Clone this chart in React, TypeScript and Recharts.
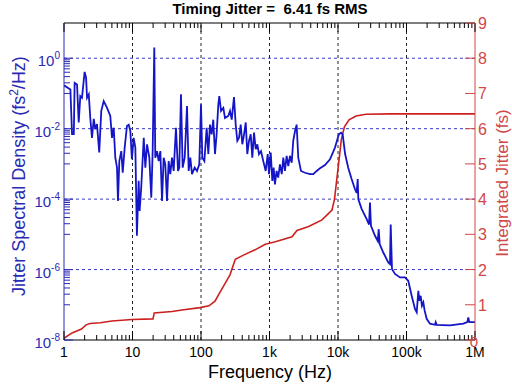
import React from 'react';
import { LineChart, Line, XAxis, YAxis, ReferenceLine } from 'recharts';

// jitter spectral density (fs^2/Hz) vs frequency (Hz)
const psdFreqs = [
  1, 1.24, 1.31, 1.39, 1.43, 1.55, 1.64, 1.73, 1.83, 2.0,
  2.1, 2.17, 2.3, 2.42, 2.56, 2.72, 2.86, 3.03, 3.27, 3.5,
  3.8, 4.25, 4.74, 5.02, 5.32, 5.61, 5.94, 6.14, 6.42, 6.86,
  7.2, 7.69, 8.3, 8.8, 9.3, 9.8, 10.4, 11.0, 11.6, 12.3,
  12.7, 13.4, 14.6, 15.4, 16.3, 17.6, 18.8, 19.7, 20.8, 21.5,
  22.8, 24.1, 25.5, 27.0, 28.5, 30.1, 31.9, 33.7, 35.6, 37.7,
  39.9, 43.1, 46.2, 48.2, 51.0, 54.0, 57.8, 62.5, 66.1, 69.8,
  73.9, 80.9, 87.5, 94.4, 100, 104.5, 112, 121, 128, 135,
  143, 151, 160, 169, 179, 185, 196, 212, 224, 250,
  265, 281, 303, 321, 339, 359, 380, 401, 425, 450,
  474, 502, 532, 561, 594, 629, 664, 703, 752, 811,
  880, 942, 984, 1042, 1100, 1150, 1200, 1270, 1340, 1420,
  1510, 1590, 1680, 1780, 1880, 1990, 2110, 2220, 2360, 2490,
  2630, 2880, 3300, 3900, 4360, 4880, 5460, 6460, 7640, 9030,
  10300, 11100, 11700, 12700, 14100, 15800, 17700, 18700, 19400, 19800,
  22200, 26200, 28400, 29300, 30300, 34700, 38000, 39300, 40600, 45800,
  54200, 57400, 58800, 61400, 67900, 80400, 95100, 106000, 119000, 133000,
  141000, 149000, 154000, 161000, 168000, 176000, 184000, 197000, 220000, 261000,
  267000, 276000, 432000, 675000, 772000, 798000, 826000, 1000000,
];
const psdValues = [
  1.7e-1, 1.3e-1, 7.0e-3, 7.0e-3, 2.0e-1, 1.8e-1, 1.5e-2, 8.4e-2, 7.5e-2, 4.1e-1,
  2.8e-1, 7.5e-2, 9.4e-2, 2.0e-2, 5.5e-3, 1.9e-2, 9.7e-3, 1.35e-2, 2.1e-3, 3.2e-2,
  6.1e-2, 3.9e-2, 2.3e-2, 5.5e-3, 1.06e-2, 1.5e-3, 7.8e-4, 8.9e-5, 1.2e-3, 2.3e-3,
  5.6e-4, 2.9e-3, 1.2e-2, 1.3e-2, 8.6e-3, 1.35e-3, 5.5e-3, 2.9e-3, 9.1e-6, 3.3e-4,
  4.6e-5, 2.1e-4, 5.5e-3, 7.8e-4, 3.6e-3, 1.5e-3, 1.1e-4, 2.3e-3, 2.0, 1.5e-3,
  2.3e-3, 1.2e-3, 2.3e-3, 8.9e-5, 1.5e-3, 9.7e-4, 8.9e-5, 1.2e-3, 5.1e-4, 1.5e-3,
  6.3e-4, 1.06e-2, 6.3e-4, 7.8e-4, 9.4e-2, 7.8e-4, 1.5e-3, 4.4e-2, 6.3e-4, 1.5e-3,
  5.1e-4, 7.8e-4, 6.3e-4, 9.7e-4, 4.9e-2, 1.5e-3, 1.2e-3, 1.06e-2, 1.9e-3, 1.3e-2,
  6.9e-3, 1.8e-2, 1.9e-3, 6.9e-3, 4.9e-2, 8.4e-2, 3.2e-2, 3.9e-2, 2.0e-2, 2.3e-2,
  3.2e-2, 1.8e-2, 7.9e-2, 1.3e-2, 4.5e-3, 5.5e-3, 1.3e-2, 3.6e-3, 6.9e-3, 1.5e-2,
  1.9e-3, 4.5e-3, 6.9e-3, 1.5e-3, 7.7e-3, 2.6e-3, 3.6e-3, 1.9e-3, 2.3e-3, 1.2e-3,
  6.3e-4, 1.9e-3, 5.1e-4, 2.1e-3, 3.3e-4, 7.8e-4, 2.6e-4, 6.3e-4, 4.1e-4, 9.7e-4,
  5.1e-4, 1.5e-3, 6.3e-4, 1.7e-3, 8.7e-4, 1.7e-3, 1.08e-3, 4.5e-3, 8.6e-3, 1.3e-2,
  1.5e-3, 6.3e-4, 5.6e-4, 5.1e-4, 5.1e-4, 6.3e-4, 7.5e-4, 9.3e-4, 1.35e-3, 2.9e-3,
  6.9e-3, 7.7e-3, 6.9e-3, 1.9e-3, 7.8e-4, 3.7e-4, 1.9e-4, 1.5e-4, 3.7e-4, 9.9e-5,
  5.2e-5, 2.7e-5, 1.9e-5, 8.0e-5, 1.74e-5, 9.1e-6, 6.5e-6, 1.4e-5, 5.3e-6, 3.05e-6,
  1.6e-6, 1.43e-6, 1.9e-5, 1.03e-6, 7.5e-7, 6.0e-7, 6.0e-7, 4.8e-7, 1.8e-7, 7.6e-8,
  6.1e-8, 2.5e-7, 1.3e-7, 1.8e-7, 9.4e-8, 1.17e-7, 6.8e-8, 4.0e-8, 2.9e-8, 2.7e-8,
  3.2e-8, 2.7e-8, 2.6e-8, 2.9e-8, 3.2e-8, 4.4e-8, 3.2e-8, 3.2e-8,
];

// integrated rms jitter (fs)
const jitterFreqs = [
  1, 1.31, 1.6, 1.8, 2.1, 2.4, 3.4, 5.0, 9.8, 19.9,
  20.8, 37.7, 52.8, 96.7, 131, 160, 189, 224, 265, 293,
  317, 417, 614, 868, 1217, 2130, 2520, 3730, 5840, 8170,
  8890, 10200, 11200, 12400, 14500, 18300, 25600, 57400, 1000000,
];
const jitterValues = [
  0.05, 0.2, 0.27, 0.31, 0.43, 0.47, 0.49, 0.54, 0.58, 0.6,
  0.77, 0.81, 0.85, 0.92, 0.97, 1.1, 1.35, 1.6, 1.85, 2.1,
  2.29, 2.41, 2.56, 2.72, 2.79, 2.93, 3.11, 3.22, 3.41, 3.69,
  4.0, 5.0, 5.7, 6.05, 6.25, 6.36, 6.41, 6.42, 6.42,
];

const freqTicks = [1, 10, 100, 1e3, 1e4, 1e5, 1e6];
const freqTickLabels = ['1', '10', '100', '1k', '10k', '100k', '1M'];
const psdTicks = [1e-8, 1e-6, 1e-4, 1e-2, 1];
const psdTickExps = ['-8', '-6', '-4', '-2', '0'];
const jitterTicks = [0, 1, 2, 3, 4, 5, 6, 7, 8, 9];
const freqGrid = [10, 100, 1e3, 1e4, 1e5];
const psdGrid = [1e-6, 1e-4, 1e-2, 1];

const FONT = '"Liberation Sans", Arial, Helvetica, sans-serif';
const BLUE = '#1515c8';
const BLUE_TXT = '#2a2ab4';
const RED = '#cc2020';
const RED_AXIS = '#d04848';

// minor ticks: 2..9 per frequency decade, m*10^k on the odd psd decades
const freqMinor: number[] = [];
for (let d = 0; d < 6; d++) for (let m = 2; m <= 9; m++) freqMinor.push(m * Math.pow(10, d));
const psdMinor: number[] = [];
for (const k of [-7, -5, -3, -1]) for (let m = 1; m <= 9; m++) psdMinor.push(m * Math.pow(10, k));

const allFreqTicks = [...freqTicks, ...freqMinor].sort((a, b) => a - b);
const allPsdTicks = [...psdTicks, ...psdMinor].sort((a, b) => a - b);

const findTick = (arr: number[], v: number) => arr.findIndex((t) => Math.abs(t - v) / t < 1e-6);

function BottomTick({ x, y, payload }: any) {
  const i = findTick(freqTicks, payload.value);
  return (
    <g>
      <line x1={x} x2={x} y1={y} y2={y - (i >= 0 ? 9 : 5)} stroke="#000" />
      {i >= 0 && (
        <text x={x} y={y + 17} textAnchor="middle" fontSize={14} fontFamily={FONT} fill="#000">
          {freqTickLabels[i]}
        </text>
      )}
    </g>
  );
}

function TopTick({ x, y, payload }: any) {
  const major = findTick(freqTicks, payload.value) >= 0;
  return <line x1={x} x2={x} y1={y} y2={y + (major ? 9 : 5)} stroke="#000" />;
}

function LeftTick({ x, y, payload }: any) {
  const i = findTick(psdTicks, payload.value);
  return (
    <g>
      <line x1={x} x2={x + (i >= 0 ? 9 : 6)} y1={y} y2={y} stroke={BLUE_TXT} />
      {i >= 0 && (
        <text x={x - 4} y={y + 8} textAnchor="end" fontSize={15} fontFamily={FONT} fill={BLUE_TXT}>
          10
          <tspan dy={-7} fontSize={10}>
            {psdTickExps[i]}
          </tspan>
        </text>
      )}
    </g>
  );
}

function RightTick({ x, y, payload }: any) {
  const zero = payload.value === 0;
  return (
    <g>
      <line x1={x} x2={x - 10} y1={y} y2={y} stroke={RED_AXIS} />
      <text
        x={zero ? x - 1 : x + 3}
        y={zero ? y + 7 : y + 6}
        textAnchor={zero ? 'middle' : 'start'}
        fontSize={zero ? 15 : 16}
        fontFamily={FONT}
        fill={RED_AXIS}
      >
        {payload.value}
      </text>
    </g>
  );
}

export default function App() {
  const psdData = psdFreqs.map((f, i) => ({ f, psd: psdValues[i] }));
  const jitterData = jitterFreqs.map((f, i) => ({ f, rms: jitterValues[i] }));

  return (
    <div style={{ position: 'absolute', left: 0, top: 0, width: 512, height: 384, background: '#fff' }}>
      <LineChart width={512} height={384} margin={{ top: 22, right: 7, bottom: 14, left: 8 }}>
        <XAxis
          type="number"
          dataKey="f"
          scale="log"
          domain={[1, 1e6]}
          allowDataOverflow
          ticks={allFreqTicks}
          interval={0}
          height={30}
          tickSize={0}
          tickMargin={0}
          tickLine={false}
          tick={<BottomTick />}
          axisLine={{ stroke: '#000' }}
        />
        <XAxis
          xAxisId="top"
          orientation="top"
          type="number"
          dataKey="f"
          scale="log"
          domain={[1, 1e6]}
          allowDataOverflow
          ticks={allFreqTicks}
          interval={0}
          height={1}
          tickSize={0}
          tickMargin={0}
          tickLine={false}
          tick={<TopTick />}
          axisLine={{ stroke: '#000' }}
        />
        <YAxis
          yAxisId="left"
          type="number"
          scale="log"
          domain={[1e-8, 10]}
          allowDataOverflow
          ticks={allPsdTicks}
          interval={0}
          width={56}
          tickSize={0}
          tickMargin={0}
          tickLine={false}
          tick={<LeftTick />}
          axisLine={{ stroke: BLUE_TXT }}
        />
        <YAxis
          yAxisId="right"
          orientation="right"
          type="number"
          domain={[0, 9]}
          allowDataOverflow
          ticks={jitterTicks}
          interval={0}
          width={30}
          tickSize={0}
          tickMargin={0}
          tickLine={false}
          tick={<RightTick />}
          axisLine={{ stroke: RED_AXIS }}
        />
        {freqGrid.map((f) => (
          <ReferenceLine key={`vx-${f}`} x={f} yAxisId="left" stroke="#222" strokeDasharray="3 3" />
        ))}
        {psdGrid.map((v) => (
          <ReferenceLine key={`hy-${v}`} y={v} yAxisId="left" stroke="#3a3ac0" strokeDasharray="3 3" />
        ))}
        <Line
          data={jitterData}
          yAxisId="right"
          dataKey="rms"
          type="linear"
          stroke={RED}
          strokeWidth={1.6}
          dot={false}
          isAnimationActive={false}
        />
        <Line
          data={psdData}
          yAxisId="left"
          dataKey="psd"
          type="linear"
          stroke={BLUE}
          strokeWidth={1.8}
          dot={false}
          isAnimationActive={false}
        />
      </LineChart>
      <svg
        width={512}
        height={384}
        style={{ position: 'absolute', left: 0, top: 0, pointerEvents: 'none' }}
      >
        <text
          x={270}
          y={14}
          textAnchor="middle"
          fontSize={15}
          fontWeight="bold"
          fontFamily={FONT}
          fill="#000"
          style={{ whiteSpace: 'pre' }}
        >
          {'Timing Jitter =  6.41 fs RMS'}
        </text>
        <text x={270} y={378} textAnchor="middle" fontSize={18} fontFamily={FONT} fill="#000">
          Frequency (Hz)
        </text>
        <text
          transform="translate(25,176) rotate(-90)"
          textAnchor="middle"
          fontSize={18}
          fontFamily={FONT}
          fill={BLUE_TXT}
        >
          Jitter Spectral Density (fs
          <tspan dy={-7} fontSize={12}>
            2
          </tspan>
          <tspan dy={7}>/Hz)</tspan>
        </text>
        <text
          transform="translate(508,183) rotate(-90)"
          textAnchor="middle"
          fontSize={17}
          fontFamily={FONT}
          fill={RED_AXIS}
        >
          Integrated Jitter (fs)
        </text>
      </svg>
    </div>
  );
}
